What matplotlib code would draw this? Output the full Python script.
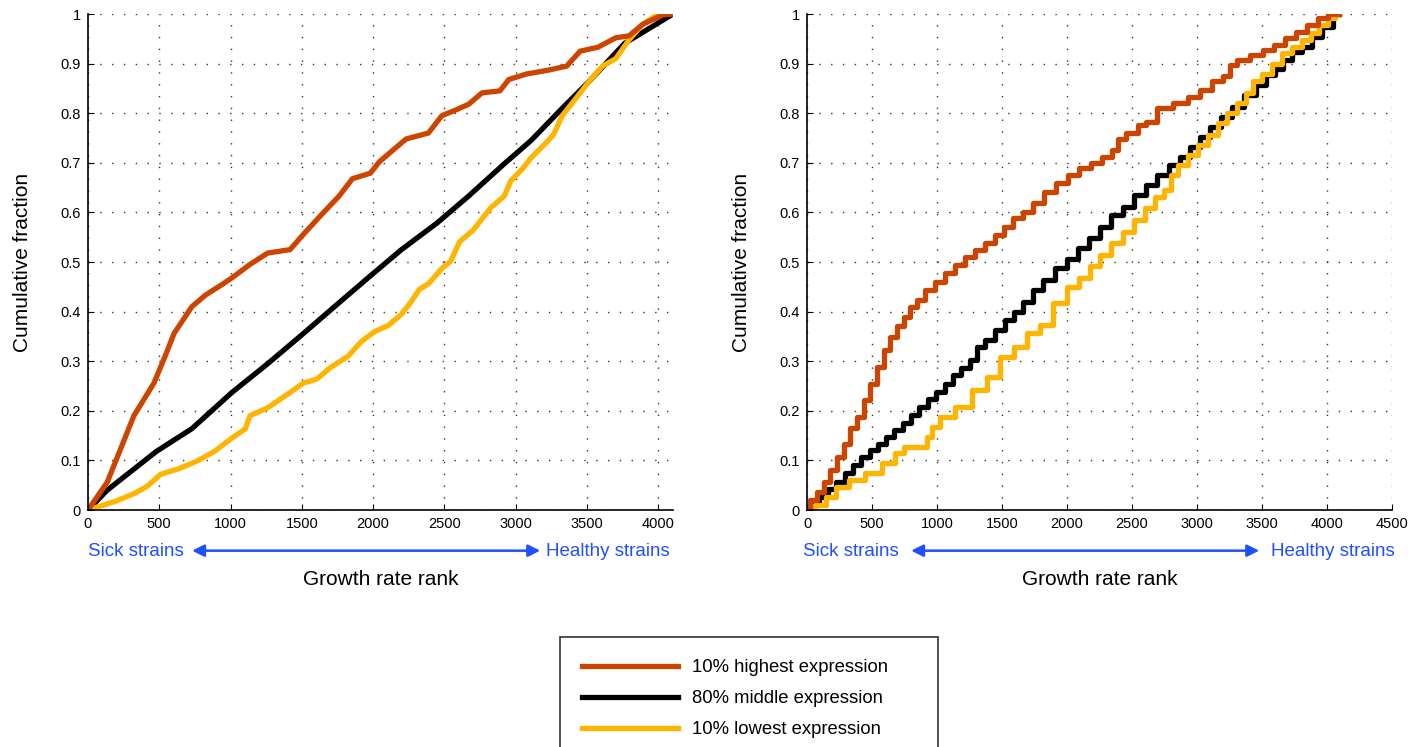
import matplotlib.pyplot as plt
import numpy as np

plt.rcParams['font.family'] = ['Liberation Sans', 'DejaVu Sans']

RED = '#CC4400'
YELLOW = '#FFB400'
BLUE = '#1F50FF'

labels = ['10% highest expression', '80% middle expression', '10% lowest expression']

# left panel (running rank)
left_high_x = [0, 135, 322, 463, 541, 604, 729, 823, 948, 1010, 1136, 1261, 1418, 1512, 1637,
               1762, 1856, 1981, 2044, 2138, 2232, 2389, 2483, 2577, 2671, 2765, 2890, 2953,
               3077, 3234, 3359, 3453, 3578, 3703, 3797, 3891, 4031, 4105]
left_high_y = [0, 0.056, 0.19, 0.256, 0.31, 0.356, 0.41, 0.433, 0.456, 0.468, 0.495, 0.518,
               0.525, 0.556, 0.595, 0.633, 0.668, 0.679, 0.702, 0.725, 0.748, 0.76, 0.795,
               0.806, 0.818, 0.841, 0.845, 0.868, 0.879, 0.887, 0.895, 0.925, 0.933, 0.952,
               0.956, 0.979, 0.998, 1.0]

left_mid_x = [0, 135, 479, 729, 1010, 1261, 1512, 1762, 1981, 2200, 2451, 2671, 2921, 3109,
              3328, 3516, 3766, 4105]
left_mid_y = [0, 0.04, 0.118, 0.164, 0.237, 0.295, 0.356, 0.418, 0.472, 0.525, 0.579, 0.633,
              0.698, 0.745, 0.81, 0.864, 0.941, 1.0]

left_low_x = [0, 197, 322, 416, 510, 635, 761, 886, 1010, 1105, 1136, 1261, 1418, 1512, 1606,
              1700, 1825, 1919, 2013, 2107, 2200, 2263, 2326, 2389, 2483, 2546, 2608, 2702,
              2765, 2828, 2921, 2968, 3046, 3109, 3203, 3265, 3328, 3391, 3516, 3610, 3703,
              3797, 3891, 4000]
left_low_y = [0, 0.018, 0.033, 0.048, 0.072, 0.083, 0.098, 0.118, 0.145, 0.164, 0.19, 0.206,
              0.237, 0.256, 0.264, 0.287, 0.31, 0.34, 0.36, 0.372, 0.395, 0.418, 0.445, 0.456,
              0.487, 0.502, 0.541, 0.564, 0.587, 0.61, 0.633, 0.664, 0.687, 0.71, 0.737, 0.756,
              0.795, 0.818, 0.864, 0.895, 0.91, 0.948, 0.979, 1.0]

# right panel (tied ranks, staircase)
right_high_x = [0, 51, 103, 154, 205, 256, 308, 359, 410, 462, 513, 564, 615, 667, 718, 769,
                820, 872, 946, 1023, 1100, 1177, 1254, 1331, 1408, 1485, 1549, 1626, 1703,
                1779, 1869, 1959, 2049, 2138, 2228, 2305, 2382, 2405, 2509, 2578, 2638, 2754,
                2882, 2985, 3062, 3164, 3241, 3267, 3356, 3459, 3549, 3638, 3715, 3805, 3895,
                3972, 4036, 4096]
right_high_y = [0.003, 0.02, 0.037, 0.057, 0.081, 0.107, 0.134, 0.165, 0.188, 0.222, 0.255,
                0.289, 0.322, 0.349, 0.37, 0.39, 0.41, 0.423, 0.444, 0.46, 0.477, 0.494, 0.511,
                0.524, 0.538, 0.554, 0.571, 0.588, 0.601, 0.618, 0.642, 0.659, 0.675, 0.689,
                0.699, 0.712, 0.726, 0.748, 0.76, 0.776, 0.783, 0.81, 0.82, 0.832, 0.847,
                0.864, 0.874, 0.897, 0.907, 0.917, 0.927, 0.938, 0.951, 0.964, 0.978, 0.991,
                1.0, 1.0]

right_mid_x = [0, 64, 128, 192, 256, 321, 385, 449, 513, 577, 641, 705, 769, 833, 897, 962,
               1026, 1090, 1154, 1218, 1282, 1331, 1408, 1485, 1562, 1626, 1703, 1779, 1856,
               1959, 2036, 2126, 2215, 2292, 2382, 2472, 2562, 2651, 2741, 2831, 2908, 2985,
               3062, 3138, 3228, 3318, 3408, 3498, 3562, 3638, 3690, 3767, 3844, 3921, 3998,
               4088, 4096]
right_mid_y = [0.003, 0.015, 0.027, 0.042, 0.057, 0.074, 0.091, 0.106, 0.121, 0.134, 0.148,
               0.161, 0.175, 0.191, 0.208, 0.223, 0.238, 0.255, 0.272, 0.287, 0.302, 0.329,
               0.343, 0.363, 0.383, 0.4, 0.42, 0.444, 0.464, 0.487, 0.507, 0.528, 0.548, 0.571,
               0.595, 0.611, 0.635, 0.655, 0.675, 0.696, 0.712, 0.732, 0.753, 0.773, 0.793,
               0.813, 0.837, 0.857, 0.877, 0.89, 0.907, 0.924, 0.934, 0.954, 0.974, 1.0, 1.0]

right_low_x = [0, 26, 103, 192, 256, 385, 513, 641, 718, 769, 897, 949, 974, 1077, 1205, 1333,
               1436, 1538, 1651, 1741, 1844, 1946, 2049, 2138, 2215, 2292, 2382, 2472, 2562,
               2638, 2715, 2779, 2818, 2895, 2972, 3049, 3126, 3190, 3267, 3344, 3408, 3459,
               3536, 3613, 3690, 3767, 3844, 3908, 3972, 4036, 4088, 4096]
right_low_y = [0, 0.003, 0.01, 0.027, 0.047, 0.06, 0.074, 0.094, 0.114, 0.128, 0.128, 0.148,
               0.168, 0.188, 0.208, 0.242, 0.269, 0.309, 0.329, 0.356, 0.373, 0.417, 0.45,
               0.467, 0.491, 0.514, 0.538, 0.561, 0.585, 0.608, 0.632, 0.645, 0.675, 0.696,
               0.716, 0.736, 0.756, 0.78, 0.8, 0.82, 0.84, 0.864, 0.88, 0.9, 0.921, 0.934,
               0.948, 0.961, 0.978, 0.991, 1.0, 1.0]

W, H = 1423, 747
fig = plt.figure(figsize=(W / 100, H / 100), dpi=100)
ax1 = fig.add_axes([88 / W, (H - 510) / H, 585 / W, 496 / H])
ax2 = fig.add_axes([807 / W, (H - 510) / H, 585 / W, 496 / H])

lw = 3.8
ax1.plot(left_mid_x, left_mid_y, color='black', lw=lw)
ax1.plot(left_low_x, left_low_y, color=YELLOW, lw=lw)
ax1.plot(left_high_x, left_high_y, color=RED, lw=lw)

ax2.step(right_mid_x, right_mid_y, where='mid', color='black', lw=lw)
ax2.step(right_low_x, right_low_y, where='mid', color=YELLOW, lw=lw)
ax2.step(right_high_x, right_high_y, where='mid', color=RED, lw=lw)

panels = [(ax1, 4105, np.arange(0, 4001, 500), 0.0, 0.995),
          (ax2, 4500, np.arange(0, 4501, 500), -0.007, 1.005)]
for ax, xmax, xt, sick_x, healthy_x in panels:
    ax.set_xlim(0, xmax)
    ax.set_ylim(0, 1)
    ax.set_xticks(xt)
    ax.set_yticks(np.arange(0, 1.01, 0.1))
    ax.set_yticklabels(['0'] + ['%.1f' % v for v in np.arange(0.1, 0.95, 0.1)] + ['1'])
    ax.spines['top'].set_visible(False)
    ax.spines['right'].set_visible(False)
    ax.spines['left'].set_linewidth(1.2)
    ax.spines['bottom'].set_linewidth(1.2)
    ax.tick_params(direction='in', length=4, labelsize=10.5, pad=5)
    ax.grid(True, color='#333333', linestyle=(0, (1, 7.5)), linewidth=1.0)
    ax.set_ylabel('Cumulative fraction', fontsize=15, labelpad=21)
    ax.set_xlabel('Growth rate rank', fontsize=15, labelpad=28)
    ax.text(sick_x, -0.084, 'Sick strains', transform=ax.transAxes, color=BLUE, fontsize=13.5,
            ha='left', va='center')
    ax.text(healthy_x, -0.084, 'Healthy strains', transform=ax.transAxes, color=BLUE,
            fontsize=13.5, ha='right', va='center')
    ax.annotate('', xy=(0.178, -0.082), xytext=(0.773, -0.082), xycoords='axes fraction',
                textcoords='axes fraction',
                arrowprops=dict(arrowstyle='<|-|>', color=BLUE, lw=1.8,
                                mutation_scale=18, shrinkA=0, shrinkB=0))
    ax.set_axisbelow(True)

handles = [plt.Line2D([], [], color=RED, lw=lw),
           plt.Line2D([], [], color='black', lw=lw),
           plt.Line2D([], [], color=YELLOW, lw=lw)]
leg = fig.legend(handles, labels, loc='upper left',
                 bbox_to_anchor=(560 / W, 0, 378 / W, (H - 637) / H), mode='expand',
                 fontsize=13.3, frameon=True, fancybox=False, edgecolor='black',
                 handlelength=5.2, handletextpad=0.75, labelspacing=0.76, borderpad=1.2,
                 borderaxespad=0)
leg.get_frame().set_linewidth(1.2)

fig.savefig('out.png', dpi=100)
